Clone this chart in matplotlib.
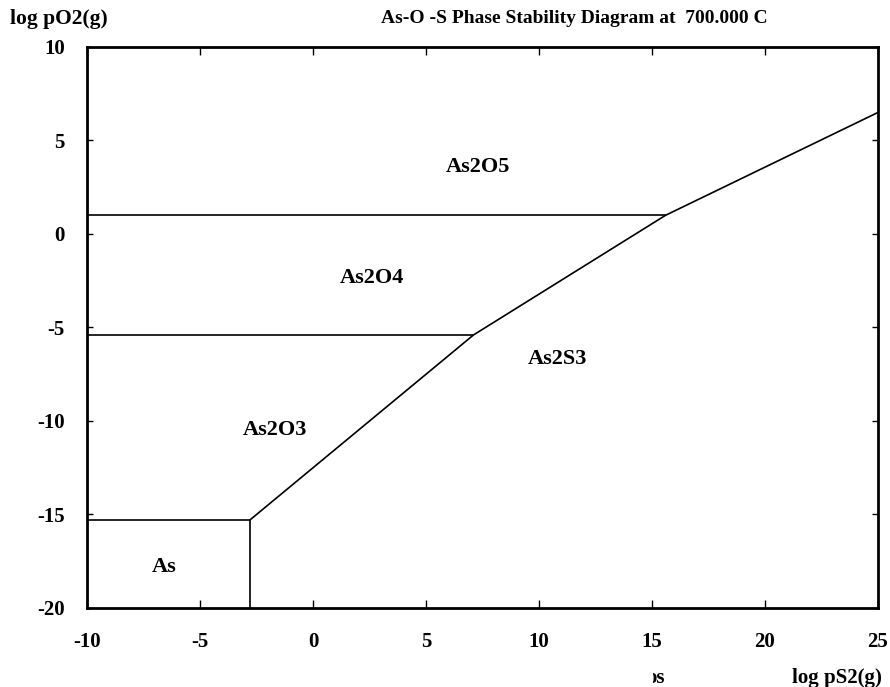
import matplotlib.pyplot as plt
from matplotlib.transforms import Bbox

# phase boundaries (log pS2, log pO2)
as_as2o3_x = [-10, -2.8]
as_as2o3_y = [-15.3, -15.3]
as_as2s3_x = [-2.8, -2.8]
as_as2s3_y = [-15.3, -20]
o3_o4_x = [-10, 7.1]
o3_o4_y = [-5.4, -5.4]
o4_o5_x = [-10, 15.6]
o4_o5_y = [1.0, 1.0]
sulfide_x = [-2.8, 7.1, 15.6, 25]
sulfide_y = [-15.3, -5.4, 1.0, 6.5]

phase_names = ['As2O5', 'As2O4', 'As2S3', 'As2O3', 'As']
phase_x = [7.3, 2.6, 10.8, -1.7, -6.6]
phase_y = [3.6, -2.35, -6.7, -10.5, -17.8]

xticks = [-10, -5, 0, 5, 10, 15, 20, 25]
yticks = [-20, -15, -10, -5, 0, 5, 10]

plt.rcParams['font.family'] = ['Liberation Serif', 'DejaVu Serif']
plt.rcParams['font.weight'] = 'bold'

fig = plt.figure(figsize=(8.9, 6.87), dpi=100)
ax = fig.add_axes([0.0978, 0.115, 0.8887, 0.8166])

lw = 1.2
for xs, ys in [(as_as2o3_x, as_as2o3_y), (as_as2s3_x, as_as2s3_y),
               (o3_o4_x, o3_o4_y), (o4_o5_x, o4_o5_y), (sulfide_x, sulfide_y)]:
    ax.plot(xs, ys, color='black', lw=lw, solid_capstyle='butt')

for name, x, y in zip(phase_names, phase_x, phase_y):
    ax.text(x, y, name, ha='center', va='center', fontsize=16, fontweight='bold')

ax.set_xlim(-10, 25)
ax.set_ylim(-20, 10)
ax.set_xticks(xticks)
ax.set_yticks(yticks)
ax.set_xticklabels([str(t) for t in xticks], fontsize=15, fontweight='bold')
ax.set_yticklabels([str(t) for t in yticks], fontsize=15, fontweight='bold')
ax.tick_params(axis='x', direction='in', top=True, length=6, width=1, pad=17)
ax.tick_params(axis='y', direction='in', right=True, length=4, width=1, pad=16)
for s in ax.spines.values():
    s.set_linewidth(2)

fig.text(0.011, 0.973, 'log pO2(g)', ha='left', va='center', fontsize=15.5, fontweight='bold')
fig.text(0.645, 0.973, 'As-O -S Phase Stability Diagram at  700.000 C',
         ha='center', va='center', fontsize=14, fontweight='bold')
fig.text(0.991, 0.006, 'log pS2(g)', ha='right', va='baseline', fontsize=15, fontweight='bold')
t = fig.text(0.7472, 0.006, 'os', ha='right', va='baseline', fontsize=15, fontweight='bold')
t.set_clip_box(Bbox.from_extents(653, 0, 700, 80))

fig.savefig('out.png', dpi=100)
